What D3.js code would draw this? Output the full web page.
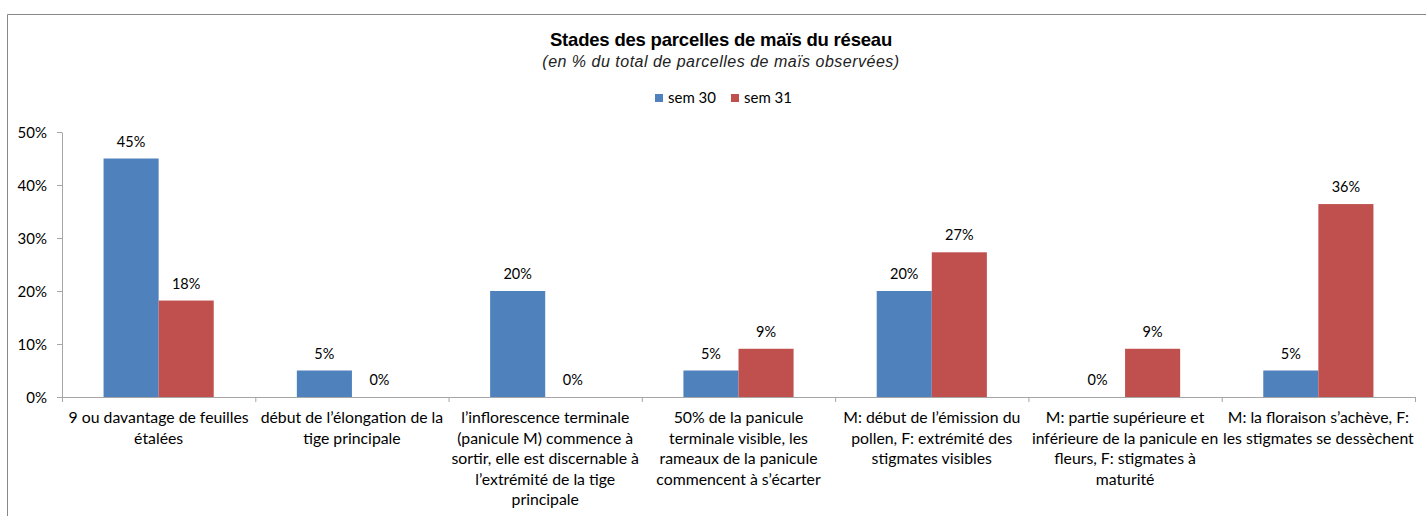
<!DOCTYPE html>
<html>
<head>
<meta charset="utf-8">
<script src="https://cdn.jsdelivr.net/npm/d3@7"></script>
<style>
  body { margin: 0; background: #fff; }
  svg { display: block; }
  .axis text { font-family: Lato, "Open Sans", sans-serif; font-size: 15px; fill: #000; }
  .axis path, .axis line { stroke: #a6a6a6; }
</style>
</head>
<body>
<div class="chart"></div>
<script>
// stage labels (line breaks as in the original chart)
const categories = [
  "9 ou davantage de feuilles\nétalées",
  "début de l’élongation de la\ntige principale",
  "l’inflorescence terminale\n(panicule M) commence à\nsortir, elle est discernable à\nl’extrémité de la tige\nprincipale",
  "50% de la panicule\nterminale visible, les\nrameaux de la panicule\ncommencent à s’écarter",
  "M: début de l’émission du\npollen, F: extrémité des\nstigmates visibles",
  "M: partie supérieure et\ninférieure de la panicule en\nfleurs, F: stigmates à\nmaturité",
  "M: la floraison s’achève, F:\nles stigmates se dessèchent"
]
const seriesNames = ["sem 30", "sem 31"]
const sem30 = [45, 5, 20, 5, 20, 0, 5]
const sem31 = [18.2, 0, 0, 9.1, 27.3, 9.1, 36.4]
const yTicks = [0, 10, 20, 30, 40, 50]
const colors = ["#4f81bd", "#c0504d"]

const W = 1426, H = 516
const margin = {top: 132, right: 11, bottom: 119, left: 62}
const width = W - margin.left - margin.right
const height = H - margin.top - margin.bottom

const svg = d3.select('.chart').append("svg")
  .attr("width", W)
  .attr("height", H)

// chart frame (top and left edges visible)
svg.append("path")
  .attr("d", "M7.5,516V14.5H1426")
  .attr("fill", "none")
  .attr("stroke", "#888")

// title
svg.append("text")
  .attr("x", 721).attr("y", 46)
  .attr("text-anchor", "middle")
  .style("font-family", "'Liberation Sans', Arial, sans-serif")
  .style("font-weight", "bold")
  .style("font-size", "18.5px")
  .style("letter-spacing", "-0.2px")
  .text("Stades des parcelles de maïs du réseau")

svg.append("text")
  .attr("x", 721).attr("y", 67)
  .attr("text-anchor", "middle")
  .style("font-family", "'Liberation Sans', Arial, sans-serif")
  .style("font-style", "italic")
  .style("font-size", "16px")
  .style("letter-spacing", "0.5px")
  .style("fill", "#222")
  .text("(en % du total de parcelles de maïs observées)")

// legend
const legend = svg.append("g").attr("transform", "translate(655,98)")
const legendX = [0, 76]
seriesNames.forEach((name, i) => {
  const g = legend.append("g").attr("transform", `translate(${legendX[i]},0)`)
  g.append("rect").attr("x", 0).attr("y", -4).attr("width", 8).attr("height", 8).attr("fill", colors[i])
  g.append("text")
    .attr("x", 13).attr("y", 5)
    .style("font-family", "Lato, 'Open Sans', sans-serif")
    .style("font-size", "15px")
    .text(name)
})

const plot = svg.append("g")
  .attr("transform", "translate(" + margin.left + "," + margin.top + ")")

const x0 = d3.scaleBand()
  .domain(d3.range(categories.length))
  .range([0, width])
  .paddingInner(0.43)
  .paddingOuter(0.215)

const x1 = d3.scaleBand()
  .domain(seriesNames)
  .range([0, x0.bandwidth()])

// band edges for the category tick marks
const xEdge = d3.scaleLinear().domain([0, categories.length]).range([0, width])

const yScale = d3.scaleLinear()
  .domain([0, 50])
  .range([height, 0])

// y axis
plot.append("g")
  .attr("class", "axis")
  .call(d3.axisLeft(yScale)
    .tickValues(yTicks)
    .tickSize(5)
    .tickSizeOuter(0)
    .tickPadding(10)
    .tickFormat(d => d + "%"))
  .call(g => g.selectAll("text").attr("dy", "0.35em"))

// x axis: line plus ticks between categories
plot.append("g")
  .attr("class", "axis")
  .attr("transform", "translate(0," + height + ")")
  .call(d3.axisBottom(xEdge)
    .tickValues(d3.range(categories.length + 1))
    .tickSize(5)
    .tickSizeOuter(0)
    .tickFormat(""))

// bars
const data = categories.map((c, i) => ({ i, values: [sem30[i], sem31[i]] }))
const groups = plot.selectAll(".cat")
  .data(data)
  .join("g")
  .attr("class", "cat")
  .attr("transform", d => `translate(${x0(d.i)},0)`)

groups.selectAll("rect")
  .data(d => d.values.map((v, k) => ({ k, v })))
  .join("rect")
  .attr("x", d => x1(seriesNames[d.k]))
  .attr("y", d => yScale(d.v))
  .attr("width", x1.bandwidth())
  .attr("height", d => height - yScale(d.v))
  .attr("fill", d => colors[d.k])

groups.selectAll(".lbl")
  .data(d => d.values.map((v, k) => ({ k, v })))
  .join("text")
  .attr("class", "lbl")
  .attr("x", d => x1(seriesNames[d.k]) + x1.bandwidth() / 2)
  .attr("y", d => yScale(d.v) - 12)
  .attr("text-anchor", "middle")
  .style("font-family", "Lato, 'Open Sans', sans-serif")
  .style("font-size", "14.5px")
  .text(d => Math.round(d.v) + "%")

// category labels, centred under each band
categories.forEach((c, i) => {
  const t = plot.append("text")
    .attr("x", xEdge(i + 0.5))
    .attr("y", height + 26)
    .attr("text-anchor", "middle")
    .style("font-family", "Lato, 'Open Sans', sans-serif")
    .style("font-size", "15.8px")
  c.split("\n").forEach((line, j) => {
    t.append("tspan")
      .attr("x", xEdge(i + 0.5))
      .attr("dy", j === 0 ? 0 : 20.6)
      .text(line)
  })
})
</script>
</body>
</html>
